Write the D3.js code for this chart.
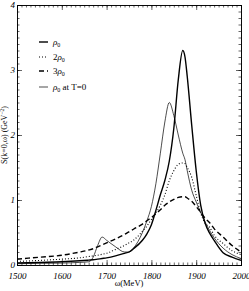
<!DOCTYPE html>
<html>
<head>
<meta charset="utf-8">
<script src="https://cdn.jsdelivr.net/npm/d3@7"></script>
<style>
  body { margin: 0; background: #fff; }
  svg { display: block; }
  .tick text { font-family: "Liberation Serif", serif; font-style: italic; font-size: 9px; fill: #000; }
  .domain { stroke: #000; stroke-width: 0.8; }
  .tick line { stroke: #000; stroke-width: 0.6; }
</style>
</head>
<body>
<svg id="chart" width="249" height="291"></svg>
<script>
// omega grid (MeV)
const omega = [1500, 1550, 1600, 1640, 1660, 1670, 1680, 1690, 1700, 1720, 1740, 1750, 1760, 1780, 1790, 1800, 1810, 1820, 1830, 1840, 1850, 1860, 1870, 1875, 1880, 1890, 1900, 1910, 1920, 1930, 1940, 1960, 1980, 2000];
// S(k=0,omega) for each density
const rho0   = [0.03, 0.04, 0.05, 0.065, 0.075, 0.08, 0.09, 0.1, 0.11, 0.14, 0.18, 0.2, 0.25, 0.38, 0.48, 0.62, 0.84, 1.08, 1.3, 1.6, 2.1, 2.85, 3.3, 3.2, 2.9, 2.15, 1.45, 0.92, 0.64, 0.49, 0.38, 0.19, 0.12, 0.07];
const rho2   = [0.055, 0.07, 0.09, 0.11, 0.13, 0.14, 0.15, 0.165, 0.18, 0.24, 0.3, 0.34, 0.38, 0.52, 0.6, 0.7, 0.8, 0.92, 1.08, 1.3, 1.45, 1.55, 1.57, 1.56, 1.5, 1.35, 1.07, 0.8, 0.64, 0.58, 0.46, 0.33, 0.22, 0.16];
const rho3   = [0.09, 0.12, 0.15, 0.2, 0.23, 0.25, 0.28, 0.31, 0.34, 0.4, 0.47, 0.51, 0.55, 0.63, 0.68, 0.73, 0.79, 0.85, 0.92, 0.97, 1.01, 1.04, 1.05, 1.05, 1.03, 0.98, 0.9, 0.81, 0.72, 0.65, 0.56, 0.43, 0.3, 0.2];
const rhoT0  = [0.02, 0.025, 0.03, 0.04, 0.05, 0.12, 0.3, 0.43, 0.38, 0.28, 0.2, 0.2, 0.26, 0.5, 0.68, 0.9, 1.25, 1.72, 2.2, 2.5, 2.3, 2.0, 1.72, 1.62, 1.45, 1.15, 0.97, 0.81, 0.66, 0.53, 0.42, 0.26, 0.16, 0.1];

const xTicks = [1500, 1600, 1700, 1800, 1900, 2000];
const yTicks = [0, 1, 2, 3, 4];
const legendLabels = [["", "ρ", "0", ""], ["2", "ρ", "0", ""], ["3", "ρ", "0", ""], ["", "ρ", "0", " at T=0"]];

const margin = {left: 17, right: 8, top: 5, bottom: 26};
const W = 249, H = 291;

const svg = d3.select("#chart");

const x = d3.scaleLinear().domain([1500, 2000]).range([margin.left, W - margin.right]);
const y = d3.scaleLinear().domain([0, 4]).range([H - margin.bottom, margin.top]);

const minorX = d3.range(1500, 2001, 10);
const minorY = d3.range(0, 4.001, 0.1);

// minor ticks, all four sides
svg.append("g").attr("transform", `translate(0,${y(0)})`)
   .call(d3.axisBottom(x).tickValues(minorX).tickSize(-2.5).tickFormat(""));
svg.append("g").attr("transform", `translate(0,${y(4)})`)
   .call(d3.axisTop(x).tickValues(minorX).tickSize(-2.5).tickFormat(""));
svg.append("g").attr("transform", `translate(${x(1500)},0)`)
   .call(d3.axisLeft(y).tickValues(minorY).tickSize(-2.5).tickFormat(""));
svg.append("g").attr("transform", `translate(${x(2000)},0)`)
   .call(d3.axisRight(y).tickValues(minorY).tickSize(-2.5).tickFormat(""));

// major ticks
svg.append("g").attr("transform", `translate(0,${y(0)})`)
   .call(d3.axisBottom(x).tickValues(xTicks).tickSize(-5).tickPadding(8).tickFormat(d3.format("d")));
svg.append("g").attr("transform", `translate(0,${y(4)})`)
   .call(d3.axisTop(x).tickValues(xTicks).tickSize(-5).tickFormat(""));
svg.append("g").attr("transform", `translate(${x(1500)},0)`)
   .call(d3.axisLeft(y).tickValues(yTicks).tickSize(-5).tickPadding(2).tickFormat(d3.format("d")));
svg.append("g").attr("transform", `translate(${x(2000)},0)`)
   .call(d3.axisRight(y).tickValues(yTicks).tickSize(-5).tickFormat(""));

const series = [
  {vals: rho0,  width: 1.4, dash: null},
  {vals: rho2,  width: 1.1, dash: "1,2"},
  {vals: rho3,  width: 1.4, dash: "5,3"},
  {vals: rhoT0, width: 0.7, dash: null}
];

const line = d3.line().x((d, i) => x(omega[i])).y(d => y(d)).curve(d3.curveMonotoneX);

svg.append("clipPath").attr("id", "clip").append("rect")
  .attr("x", x(1500)).attr("y", y(4)).attr("width", x(2000) - x(1500)).attr("height", y(0) - y(4));

svg.append("g").attr("clip-path", "url(#clip)")
  .selectAll("path").data(series).join("path")
  .attr("d", d => line(d.vals))
  .attr("fill", "none").attr("stroke", "#000")
  .attr("stroke-width", d => d.width)
  .attr("stroke-dasharray", d => d.dash);

// legend
const legendY = [42, 57, 71, 87];
const leg = svg.append("g");
series.forEach((s, i) => {
  leg.append("line").attr("x1", 39).attr("x2", 48).attr("y1", legendY[i]).attr("y2", legendY[i])
     .attr("stroke", "#000").attr("stroke-width", s.width).attr("stroke-dasharray", s.dash);
  const t = leg.append("text").attr("x", 53).attr("y", legendY[i] + 3)
     .style("font-family", "Liberation Serif, serif").style("font-size", "9px");
  const [pre, sym, sub, post] = legendLabels[i];
  t.append("tspan").text(pre);
  t.append("tspan").text(sym).style("font-style", "italic");
  t.append("tspan").text(sub).attr("dy", 2).style("font-size", "6px");
  t.append("tspan").text(post).attr("dy", -2);
});

// axis titles
svg.append("text").attr("x", (x(1500) + x(2000)) / 2).attr("y", 286)
   .attr("text-anchor", "middle")
   .style("font-family", "Liberation Serif, serif").style("font-size", "8.5px")
   .text("ω(MeV)");

const yl = svg.append("text")
   .attr("transform", `translate(7,${(y(0) + y(4)) / 2}) rotate(-90)`)
   .attr("text-anchor", "middle")
   .style("font-family", "Liberation Serif, serif").style("font-size", "8px");
yl.append("tspan").text("S(k=0,ω) (GeV");
yl.append("tspan").text("−2").attr("dy", -3).style("font-size", "5.5px");
yl.append("tspan").text(")").attr("dy", 3);
</script>
</body>
</html>
